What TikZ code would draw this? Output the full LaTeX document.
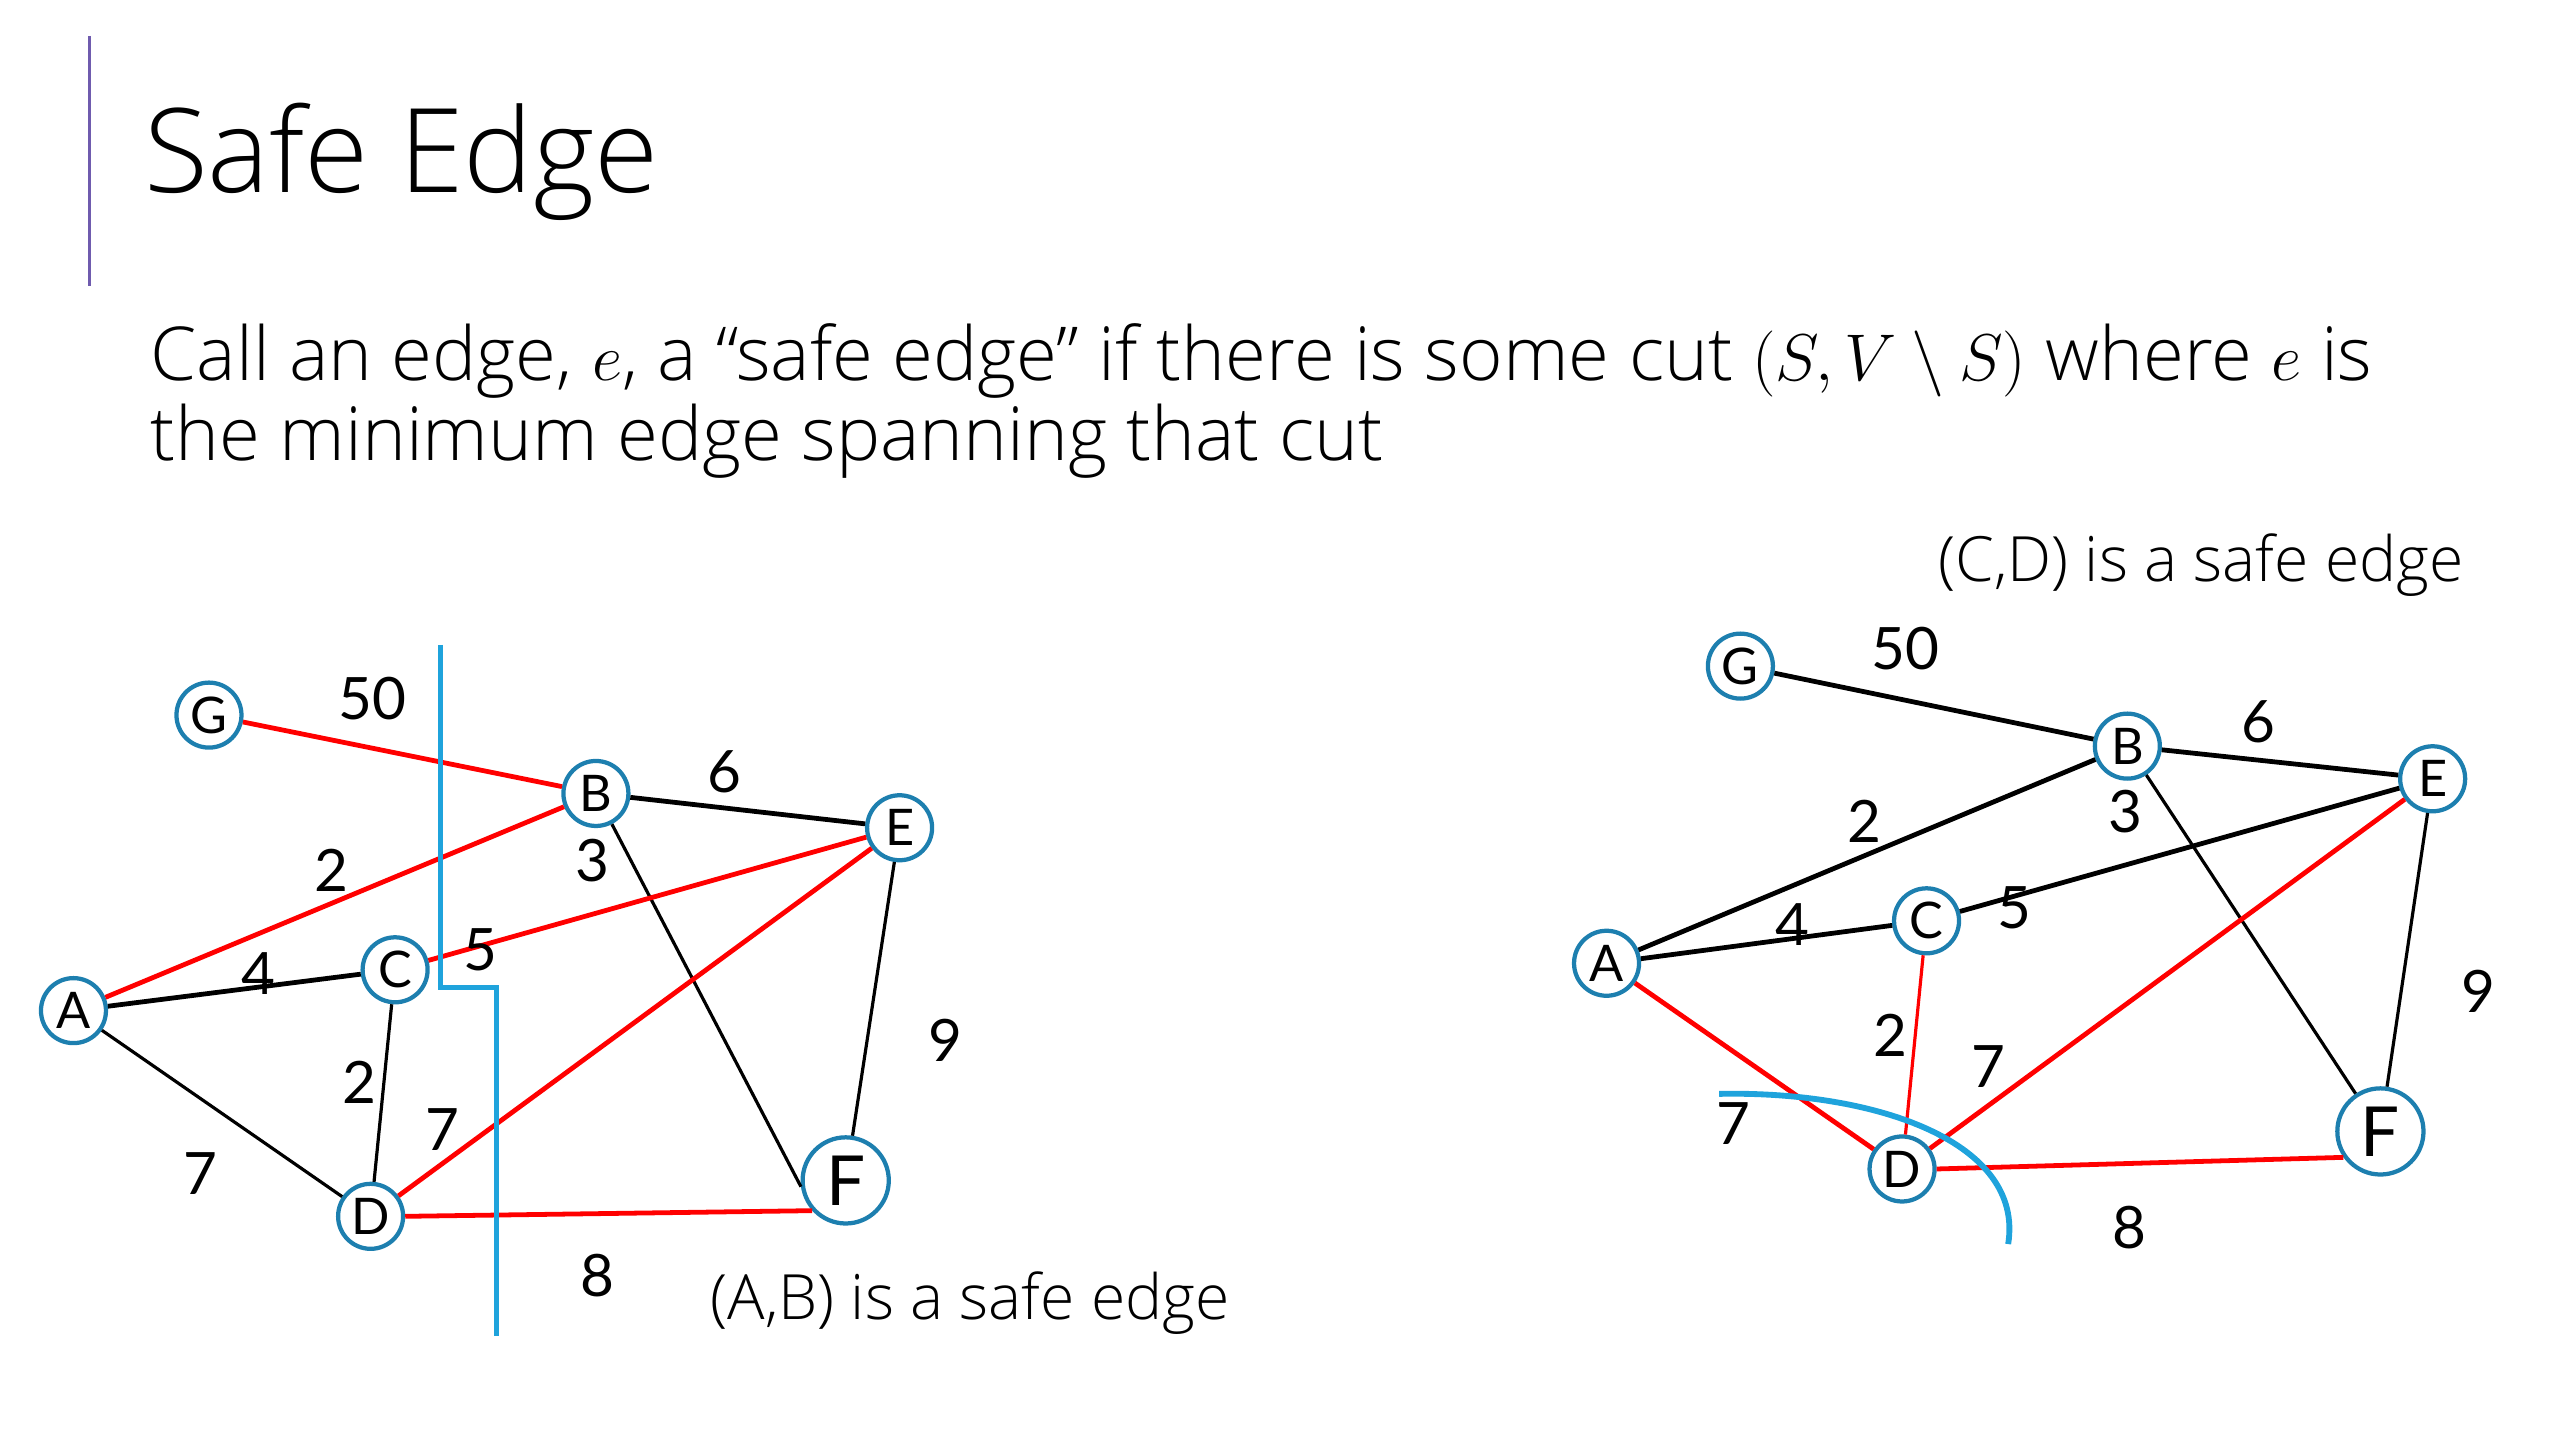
\documentclass[tikz,border=0pt]{standalone}
\usepackage{fontspec}
\setmainfont{Open Sans Light}
\newfontfamily\graphfont{Lato}
\definecolor{nodeblue}{RGB}{29,127,175}
\definecolor{cutblue}{RGB}{31,163,220}
\definecolor{barviolet}{RGB}{111,91,174}
\tikzset{
  vtx/.style={circle,draw=nodeblue,line width=1.6pt,fill=white,inner sep=0pt,
    minimum size=8.6mm,font=\graphfont\fontsize{19}{19}\selectfont},
  bigvtx/.style={vtx,minimum size=11.4mm,font=\graphfont\fontsize{26}{26}\selectfont},
  wt/.style={font=\graphfont\fontsize{22}{22}\selectfont,inner sep=0pt},
  blk/.style={draw=black,line width=1.8pt},
  blkthin/.style={draw=black,line width=1.2pt},
  red/.style={draw=red,line width=1.8pt},
  redthin/.style={draw=red,line width=1.2pt},
  cut/.style={draw=cutblue,line width=1.9pt}
}

\begin{document}
\begin{tikzpicture}[x=0.216mm,y=-0.216mm]
  \useasboundingbox (0,0) rectangle (1568,882);
  % title and text
  \draw[barviolet,line width=1.2pt] (55,22)--(55,175);
  \node[anchor=base west,inner sep=0pt,font=\fontsize{44}{44}\selectfont] (title) at (88,118) {Safe Edge};
  \node[anchor=base west,inner sep=0pt,font=\fontsize{28}{28}\selectfont] (line1) at (92,233)
    {Call an edge, $e$, a “safe edge” if there is some cut $(S,V\setminus S)$ where $e$ is};
  \node[anchor=base west,inner sep=0pt,font=\fontsize{28}{28}\selectfont] (line2) at (92,282)
    {the minimum edge spanning that cut};

  % left graph: cut around (A,B)
  \node[vtx] (G) at (128,438) {G};
  \node[vtx] (B) at (365,486) {B};
  \node[vtx] (E) at (551,507) {E};
  \node[vtx] (C) at (242,594) {C};
  \node[vtx] (A) at (45,619) {A};
  \node[vtx] (D) at (227,745) {D};
  \node[bigvtx] (F) at (518,723) {F};
  \draw[red] (G)--(B);
  \draw[blk] (B)--(E);
  \draw[red] (A)--(B);
  \draw[blkthin] (B)--(F.188);
  \draw[red] (C)--(E);
  \draw[blk] (A)--(C);
  \draw[blkthin] (C)--(D);
  \draw[red] (D)--(E);
  \draw[blkthin] (A)--(D);
  \draw[red] (D.east)--(F.222);
  \draw[blkthin] (E)--(F);
  \node[wt] (gb) at (228,428) {50};
  \node[wt] (be) at (444,473) {6};
  \node[wt] (ab) at (203,533) {2};
  \node[wt] (bf) at (363,527) {3};
  \node[wt] (ce) at (294,582) {5};
  \node[wt] (ac) at (158,596) {4};
  \node[wt] (cd) at (220,663) {2};
  \node[wt] (de) at (271,692) {7};
  \node[wt] (ad) at (123,719) {7};
  \node[wt] (df) at (366,781) {8};
  \node[wt] (ef) at (579,637) {9};
  \draw[cut] (270,395)--(270,605)--(304,605)--(304,818);
  \node[anchor=base west,inner sep=0pt,font=\fontsize{23.5}{24}\selectfont] (capL) at (435,808) {(A,B) is a safe edge};

  % right graph: cut around D
  \node[vtx] (G2) at (1066,408) {G};
  \node[vtx] (B2) at (1303,457) {B};
  \node[vtx] (E2) at (1490,477) {E};
  \node[vtx] (C2) at (1180,564) {C};
  \node[vtx] (A2) at (984,590) {A};
  \node[vtx] (D2) at (1165,716) {D};
  \node[bigvtx] (F2) at (1458,693) {F};
  \draw[blk] (G2)--(B2);
  \draw[blk] (B2)--(E2);
  \draw[blk] (A2)--(B2);
  \draw[blkthin] (B2)--(F2);
  \draw[blk] (C2)--(E2);
  \draw[blk] (A2)--(C2);
  \draw[redthin] (C2)--(D2);
  \draw[red] (D2)--(E2);
  \draw[red] (A2)--(D2);
  \draw[red] (D2.east)--(F2.215);
  \draw[blkthin] (E2)--(F2);
  \node[wt] (gb2) at (1167,397) {50};
  \node[wt] (be2) at (1383,442) {6};
  \node[wt] (ab2) at (1142,503) {2};
  \node[wt] (bf2) at (1302,497) {3};
  \node[wt] (ce2) at (1234,556) {5};
  \node[wt] (ac2) at (1098,566) {4};
  \node[wt] (cd2) at (1158,634) {2};
  \node[wt] (de2) at (1218,653) {7};
  \node[wt] (ad2) at (1062,688) {7};
  \node[wt] (df2) at (1304,752) {8};
  \node[wt] (ef2) at (1518,607) {9};
  \draw[cut,line width=2.2pt] (1053,670) .. controls (1150,668) and (1240,700) .. (1230,762);
  \node[anchor=base west,inner sep=0pt,font=\fontsize{23.5}{24}\selectfont] (capR) at (1187,356) {(C,D) is a safe edge};
\end{tikzpicture}
\end{document}
